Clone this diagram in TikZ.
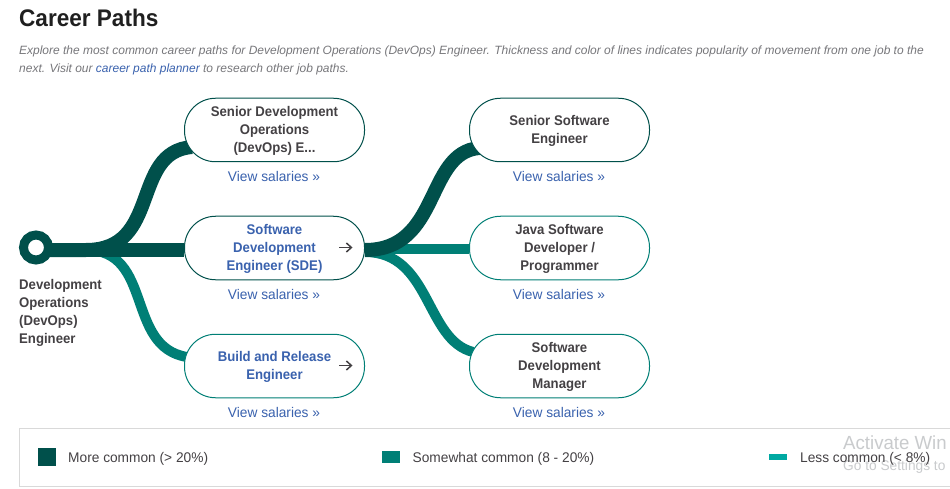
\documentclass[tikz,border=0pt]{standalone}
\usepackage{fontspec}
\setmainfont{Liberation Sans}[FakeStretch=0.98,BoldFeatures={FakeStretch=0.94},ItalicFeatures={FakeStretch=0.998}]
\usetikzlibrary{arrows.meta,backgrounds}
\definecolor{cdark}{HTML}{00504B}
\definecolor{cmid}{HTML}{007F76}
\definecolor{clight}{HTML}{00A9A2}
\definecolor{cblue}{HTML}{3A62AE}
\definecolor{ctext}{HTML}{444144}
\definecolor{cgrey}{HTML}{77777B}
\definecolor{cframe}{HTML}{D9D9D9}
\definecolor{cwater}{HTML}{C9CBCD}
\newcommand\pilltext[1]{\vbox{\kern1.6pt\hbox{\begin{tabular}{@{}c@{}}#1\end{tabular}}}}
\tikzset{
  pill/.style={rectangle,rounded corners=31pt,minimum width=180pt,minimum height=63.5pt,inner sep=0pt,fill=white,line width=1pt,font=\fontsize{14}{18}\selectfont\bfseries,text=ctext},
  pilldark/.style={pill,draw=cdark},
  pillmid/.style={pill,draw=cmid},
  linked/.style={text=cblue},
  viewlink/.style={inner sep=0pt,anchor=base,font=\fontsize{14}{18}\selectfont,text=cblue},
  thick path/.style={line width=14pt,draw=cdark},
  mid path/.style={line width=10pt,draw=cmid},
  plainleft/.style={inner sep=0pt,anchor=base west},
  legendtext/.style={plainleft,font=\fontsize{14}{18}\selectfont,text=ctext},
  desc/.style={plainleft,font=\fontsize{12}{18}\selectfont\itshape,text=cgrey},
  swatch/.style={inner sep=0pt,minimum width=18pt,anchor=center}
}
\begin{document}
\begin{tikzpicture}[x=1pt,y=-1pt]
\useasboundingbox (0,0) rectangle (950,489);
\node[plainleft,font=\fontsize{24}{26}\selectfont\bfseries,text=black!88] (title) at (19,26.5) {Career Paths};
\node[desc] (d1) at (19,55) {Explore the most common career paths for Development Operations (DevOps) Engineer. Thickness and color of lines indicates popularity of movement from one job to the};
\node[desc] (d2) at (19,73) {next. Visit our \textcolor{cblue}{career path planner} to research other job paths.};
% start
\node[circle,draw=cdark,line width=9pt,fill=white,minimum size=25pt,inner sep=0pt] (start) at (36,247.5) {};
\node[inner sep=0pt,anchor=north west,align=left,text=ctext,font=\fontsize{14}{18}\selectfont\bfseries] (startlabel) at (19,279) {Development\\Operations\\(DevOps)\\Engineer};
% pills
\node[pilldark] (a1) at (274.5,130) {\pilltext{Senior Development\\Operations\\(DevOps) E...}};
\node[pilldark,linked] (a2) at (274.5,248) {\pilltext{Software\\Development\\Engineer (SDE)}};
\node[pillmid,linked] (a3) at (274.5,366) {\pilltext{Build and Release\\Engineer}};
\node[pilldark] (b1) at (559.5,130) {\pilltext{Senior Software\\Engineer}};
\node[pillmid] (b2) at (559.5,248) {\pilltext{Java Software\\Developer /\\Programmer}};
\node[pillmid] (b3) at (559.5,366) {\pilltext{Software\\Development\\Manager}};
% view links
\node[viewlink] (v1) at (274,181.4) {View salaries »};
\node[viewlink] (v2) at (274,299.4) {View salaries »};
\node[viewlink] (v3) at (274,417.4) {View salaries »};
\node[viewlink] (v4) at (559,181.4) {View salaries »};
\node[viewlink] (v5) at (559,299.4) {View salaries »};
\node[viewlink] (v6) at (559,417.4) {View salaries »};
% arrows in pills
\foreach \n in {a2,a3}{
  \draw[ctext,line width=1.5pt,-{Straight Barb[length=5pt,width=9pt,line width=1.5pt]}] ([shift={(64.5,-0.5)}]\n.center) -- ([shift={(78,-0.5)}]\n.center);
}
% connectors
\begin{scope}[on background layer]
\fill[white] (0,0) rectangle (950,489);
\draw[mid path] ([shift={(0,2.5)}]start.center) -- ++(50,0) .. controls +(68,0) and +(-62,-10) .. ([shift={(3,-9)}]a3.west);
\draw[thick path] ([shift={(0,2.5)}]start.center) -- ++(50,0) .. controls +(76,0) and +(-62,5) .. ([shift={(8,17)}]a1.west);
\draw[thick path] ([shift={(0,2.5)}]start.center) -- ([shift={(0,2)}]a2.west);
\draw[mid path] ([shift={(0,1)}]a2.east) -- ([shift={(0,1)}]b2.west);
\draw[mid path] ([shift={(0,4)}]a2.east) .. controls +(66,0) and +(-48,-12) .. ([shift={(4,-14)}]b3.west);
\draw[thick path] ([shift={(0,2)}]a2.east) .. controls +(76,0) and +(-54,5) .. ([shift={(10,18)}]b1.west);
\end{scope}
% legend
\draw[cframe,line width=1pt] (950,428.5) -- (19.5,428.5) -- (19.5,486.5) -- (950,486.5);
\node[swatch,fill=cdark,minimum height=18pt] (s1) at (47,456.5) {};
\node[legendtext] (l1) at (68,462) {More common (> 20\%)};
\node[swatch,fill=cmid,minimum height=12pt] (s2) at (391,457) {};
\node[legendtext] (l2) at (412.5,462) {Somewhat common (8 - 20\%)};
\node[swatch,fill=clight,minimum height=6pt] (s3) at (778,457) {};
\node[plainleft,font=\fontsize{19}{22}\selectfont,text=cwater] (w1) at (843,449) {Activate Win};
\node[plainleft,font=\fontsize{14}{18}\selectfont,text=cwater] (w2) at (843,470) {Go to Settings to};
\node[legendtext] (l3) at (800,462) {Less common (< 8\%)};
\end{tikzpicture}
\end{document}
